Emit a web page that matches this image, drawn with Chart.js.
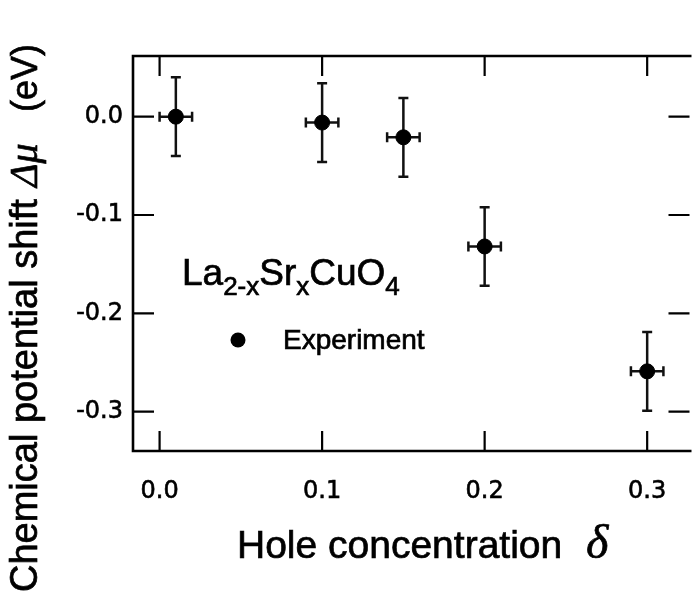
<!DOCTYPE html>
<html>
<head>
<meta charset="utf-8">
<script src="https://cdn.jsdelivr.net/npm/chart.js@4.4.0/dist/chart.umd.min.js"></script>
<style>
  html, body { margin: 0; padding: 0; background: #fff; overflow: hidden; }
</style>
</head>
<body>
<canvas id="chart" width="695" height="602"></canvas>
<script>
// ==================================================
// DATA
// ==================================================
const holeConc = [0.01, 0.10, 0.15, 0.20, 0.30];
const muShift = [0.000, -0.006, -0.021, -0.132, -0.259];
const holeErr = [0.01, 0.01, 0.01, 0.01, 0.01];
const muErr = [0.04, 0.04, 0.04, 0.04, 0.04];

const xTicks = [0.0, 0.1, 0.2, 0.3];
const xTickLabels = ["0.0", "0.1", "0.2", "0.3"];
const yTicks = [0.0, -0.1, -0.2, -0.3];
const yTickLabels = ["0.0", "-0.1", "-0.2", "-0.3"];

const seriesLabel = "Experiment";
// [text, isSubscript]
const compound = [["La", false], ["2-x", true], ["Sr", false], ["x", true], ["CuO", false], ["4", true]];
const xTitle = "Hole concentration";
const xSymbol = "δ";
const yTitle = "Chemical potential shift";
const ySymbol = "Δμ";
const yUnit = "(eV)";

// ==================================================
// PLUGINS
// ==================================================
// frame (right edge runs off the picture) with inward ticks
const frameTicks = {
  id: "frameTicks",
  beforeDatasetsDraw(chart) {
    const { ctx, chartArea: a, scales: { x, y } } = chart;
    ctx.save();
    ctx.strokeStyle = "#000";
    ctx.lineWidth = 2.6;
    ctx.beginPath();
    ctx.moveTo(a.right + 5, a.top);
    ctx.lineTo(a.left, a.top);
    ctx.lineTo(a.left, a.bottom);
    ctx.lineTo(a.right + 5, a.bottom);
    ctx.stroke();
    ctx.lineWidth = 2.2;
    ctx.beginPath();
    xTicks.forEach((v) => {
      const px = x.getPixelForValue(v);
      ctx.moveTo(px, a.bottom);
      ctx.lineTo(px, a.bottom - 20);
      ctx.moveTo(px, a.top);
      ctx.lineTo(px, a.top + 20);
    });
    yTicks.forEach((v) => {
      const py = y.getPixelForValue(v);
      ctx.moveTo(a.left, py);
      ctx.lineTo(a.left + 21, py);
      ctx.moveTo(a.right + 3, py);
      ctx.lineTo(a.right - 18, py);
    });
    ctx.stroke();
    ctx.restore();
  },
};

// x and y error bars with small caps
const errorBars = {
  id: "errorBars",
  beforeDatasetsDraw(chart) {
    const { ctx, scales: { x, y } } = chart;
    ctx.save();
    ctx.strokeStyle = "#111";
    ctx.lineWidth = 2.5;
    holeConc.forEach((hx, i) => {
      const cx = x.getPixelForValue(hx);
      const cy = y.getPixelForValue(muShift[i]);
      const x0 = x.getPixelForValue(hx - holeErr[i]);
      const x1 = x.getPixelForValue(hx + holeErr[i]);
      const y0 = y.getPixelForValue(muShift[i] + muErr[i]);
      const y1 = y.getPixelForValue(muShift[i] - muErr[i]);
      ctx.beginPath();
      ctx.moveTo(x0, cy); ctx.lineTo(x1, cy);
      ctx.moveTo(cx, y0); ctx.lineTo(cx, y1);
      ctx.moveTo(x0, cy - 5); ctx.lineTo(x0, cy + 5);
      ctx.moveTo(x1, cy - 5); ctx.lineTo(x1, cy + 5);
      ctx.moveTo(cx - 5, y0); ctx.lineTo(cx + 5, y0);
      ctx.moveTo(cx - 5, y1); ctx.lineTo(cx + 5, y1);
      ctx.stroke();
    });
    ctx.restore();
  },
};

// fill + thin stroke, the scan looks a bit heavy
function heavyText(ctx, t, x, y) {
  ctx.strokeText(t, x, y);
  ctx.fillText(t, x, y);
}

// formula, legend entry and axis titles (mixed fonts)
const labels = {
  id: "labels",
  afterDraw(chart) {
    const ctx = chart.ctx;
    ctx.save();
    ctx.fillStyle = "#000";
    ctx.strokeStyle = "#000";
    ctx.lineWidth = 0.7;
    ctx.textAlign = "left";
    ctx.textBaseline = "alphabetic";

    // La2-xSrxCuO4
    let px = 182;
    compound.forEach(([t, sub]) => {
      ctx.font = sub ? '26px "Liberation Sans"' : '37px "Liberation Sans"';
      heavyText(ctx, t, px, sub ? 295 : 285);
      px += ctx.measureText(t).width;
    });

    // legend entry
    const ds = chart.data.datasets[0];
    ctx.beginPath();
    ctx.arc(238, 340, 7.5, 0, Math.PI * 2);
    ctx.fillStyle = ds.backgroundColor;
    ctx.fill();
    ctx.fillStyle = "#000";
    ctx.font = '28px "Liberation Sans"';
    heavyText(ctx, ds.label, 283, 349);

    // x title
    ctx.font = '39px "Liberation Sans"';
    heavyText(ctx, xTitle, 237, 558);
    ctx.font = 'italic 48px "Liberation Serif"';
    heavyText(ctx, xSymbol, 586, 558);

    // y title
    ctx.translate(37, 592);
    ctx.rotate(-Math.PI / 2);
    ctx.font = '38px "Liberation Sans"';
    heavyText(ctx, yTitle, 0, 0);
    ctx.font = 'italic 40px "Liberation Serif"';
    heavyText(ctx, ySymbol, 405, 0);
    ctx.font = '36px "Liberation Sans"';
    heavyText(ctx, yUnit, 480, 0);
    ctx.restore();
  },
};

// ==================================================
// CHART
// ==================================================
const tickFont = { family: "DejaVu Sans", size: 24 };

new Chart(document.getElementById("chart"), {
  type: "scatter",
  data: {
    datasets: [
      {
        label: seriesLabel,
        data: holeConc.map((v, i) => ({ x: v, y: muShift[i] })),
        backgroundColor: "#000",
        borderColor: "#000",
        pointRadius: 7.5,
        pointHoverRadius: 7.5,
      },
    ],
  },
  options: {
    responsive: false,
    animation: false,
    events: [],
    layout: { padding: { top: 56, right: 0, left: 0, bottom: 0 } },
    plugins: { legend: { display: false }, tooltip: { enabled: false } },
    scales: {
      x: {
        type: "linear",
        min: -0.01636,
        max: 0.3242,
        grid: { display: false, drawTicks: false },
        border: { display: false },
        afterBuildTicks: (s) => { s.ticks = xTicks.map((v) => ({ value: v })); },
        afterFit: (s) => { s.height = 151; },
        ticks: {
          callback: (v, i) => xTickLabels[i],
          font: tickFont,
          color: "#000",
          textStrokeColor: "#000",
          textStrokeWidth: 0.6,
          padding: 26,
          maxRotation: 0,
          autoSkip: false,
        },
      },
      y: {
        type: "linear",
        min: -0.34,
        max: 0.0617,
        grid: { display: false, drawTicks: false },
        border: { display: false },
        afterBuildTicks: (s) => { s.ticks = yTicks.map((v) => ({ value: v })); },
        afterFit: (s) => { s.width = 133; },
        ticks: {
          callback: (v, i) => yTickLabels[i],
          font: tickFont,
          color: "#000",
          textStrokeColor: "#000",
          textStrokeWidth: 0.6,
          padding: 10,
          autoSkip: false,
        },
      },
    },
  },
  plugins: [frameTicks, errorBars, labels],
});
</script>
</body>
</html>
